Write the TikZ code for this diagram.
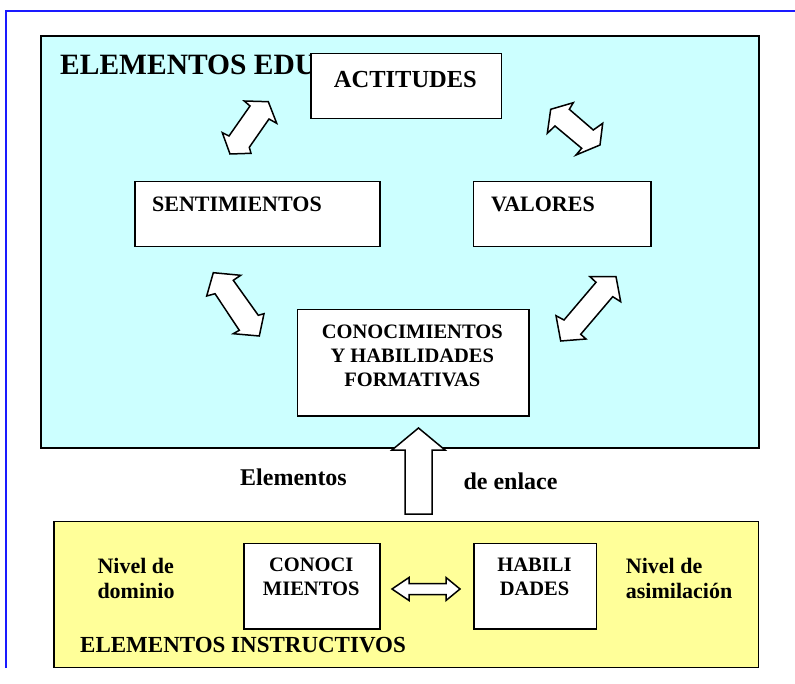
\documentclass[tikz,border=0pt]{standalone}
\usepackage{fontspec}
\setmainfont{Liberation Serif}
\definecolor{cyanfill}{HTML}{CCFFFF}
\definecolor{yellowfill}{HTML}{FFFF99}
\definecolor{frameblue}{HTML}{1A1AFF}
\begin{document}
\begin{tikzpicture}[x=1pt,y=-1pt,
  panel/.style={draw=black, line width=2pt, inner sep=0pt, anchor=north west},
  wbox/.style={draw=black, fill=white, line width=1.5pt, inner sep=0pt, anchor=north west},
  lbl/.style={inner sep=0pt, font=\bfseries},
  blockarrow/.style={draw=black, fill=white, line width=1.5pt, line join=miter}]
\useasboundingbox (0,0) rectangle (795,684);
% outer blue frame (top and left sides)
\draw[frameblue, line width=2pt] (6,668) -- (6,11) -- (795,11);
% panels
\node[panel, fill=cyanfill, minimum width=717.7pt, minimum height=412pt] (edu) at (40,35) {};
\node[panel, line width=1.5pt, fill=yellowfill, minimum width=704.4pt, minimum height=146pt] (ins) at (53.3,520.7) {};
% title of upper panel (partly hidden)
\node[lbl, anchor=base west, font=\bfseries\fontsize{29.5}{34}\selectfont] (edutitle) at (60,75) {ELEMENTOS EDU};
% boxes
\node[wbox, minimum width=190.7pt, minimum height=65pt] (act) at (310,53) {};
\node[wbox, minimum width=245pt, minimum height=65pt] (sen) at (134,181) {};
\node[wbox, minimum width=177.3pt, minimum height=65pt] (val) at (472.7,181) {};
\node[wbox, minimum width=231.3pt, minimum height=106pt] (con) at (296.7,309) {};
\node[wbox, minimum width=135.7pt, minimum height=85.6pt] (cono) at (243.3,542.7) {};
\node[wbox, minimum width=122.4pt, minimum height=85.6pt] (hab) at (473.3,542.7) {};
% box texts
\node[lbl, anchor=base, font=\bfseries\fontsize{24.5}{28}\selectfont] (actt) at (405.4,87.3) {ACTITUDES};
\node[lbl, anchor=base west, font=\bfseries\fontsize{22}{26}\selectfont] (sent) at (152,211.7) {SENTIMIENTOS};
\node[lbl, anchor=base west, font=\bfseries\fontsize{22}{26}\selectfont] (valt) at (491,211.7) {VALORES};
\node[lbl, anchor=north, align=center, font=\bfseries\fontsize{20.5}{24}\selectfont] (cont) at (412.3,324.8) {CONOCIMIENTOS\\Y HABILIDADES\\FORMATIVAS};
\node[lbl, anchor=north, align=center, font=\bfseries\fontsize{20.5}{24}\selectfont] (conot) at (311.2,558.2) {CONOCI\\MIENTOS};
\node[lbl, anchor=north, align=center, font=\bfseries\fontsize{20.5}{24}\selectfont] (habt) at (534.5,558.2) {HABILI\\DADES};
% other labels
\node[lbl, anchor=base, font=\bfseries\fontsize{24}{28}\selectfont] (elem) at (293.5,485) {Elementos};
\node[lbl, anchor=base west, font=\bfseries\fontsize{24}{28}\selectfont] (enl) at (463.3,489.3) {de enlace};
\node[lbl, anchor=north west, align=left, font=\bfseries\fontsize{22}{25}\selectfont] (dom) at (97.3,558) {Nivel de\\dominio};
\node[lbl, anchor=north west, align=left, font=\bfseries\fontsize{22}{25}\selectfont] (asi) at (625.7,558) {Nivel de\\asimilación};
\node[lbl, anchor=base west, font=\bfseries\fontsize{23}{27}\selectfont] (instt) at (80,652.7) {ELEMENTOS INSTRUCTIVOS};
% block double arrows
\draw[blockarrow] (244.3,101) -- (268.3,101.7) -- (276.7,123.3) -- (269,119) -- (249.3,147.3) -- (251,153.3) -- (230,154) -- (222.3,132.7) -- (229,136) -- (250,106) -- cycle;
\draw[blockarrow] (573.3,102.7) -- (569.3,109.3) -- (593.3,130) -- (602.7,123.3) -- (600,145) -- (576,155) -- (581.7,148.3) -- (555,126) -- (547.3,133.3) -- (550.7,109.3) -- cycle;
\draw[blockarrow] (213.3,272.7) -- (240.7,275.3) -- (233.3,280.3) -- (258.3,315.3) -- (264,313.7) -- (259.3,336) -- (233.3,333.7) -- (239.3,330.3) -- (215,293.7) -- (206.7,296) -- cycle;
\draw[blockarrow] (590,276.7) -- (616,276.7) -- (620.7,301.7) -- (612.7,296.7) -- (580.7,334.3) -- (586,339) -- (560.7,341) -- (556,315.7) -- (564,320) -- (596,282.3) -- cycle;
% up arrow (link)
\draw[blockarrow] (418.5,428) -- (445,450) -- (432,450) -- (432,514) -- (405,514) -- (405,450) -- (392,450) -- cycle;
% small horizontal double arrow
\draw[blockarrow] (392,589) -- (409,577.5) -- (409,583.5) -- (446,583.5) -- (446,577.5) -- (460,589) -- (446,600.5) -- (446,594.5) -- (409,594.5) -- (409,600.5) -- cycle;
\end{tikzpicture}
\end{document}
